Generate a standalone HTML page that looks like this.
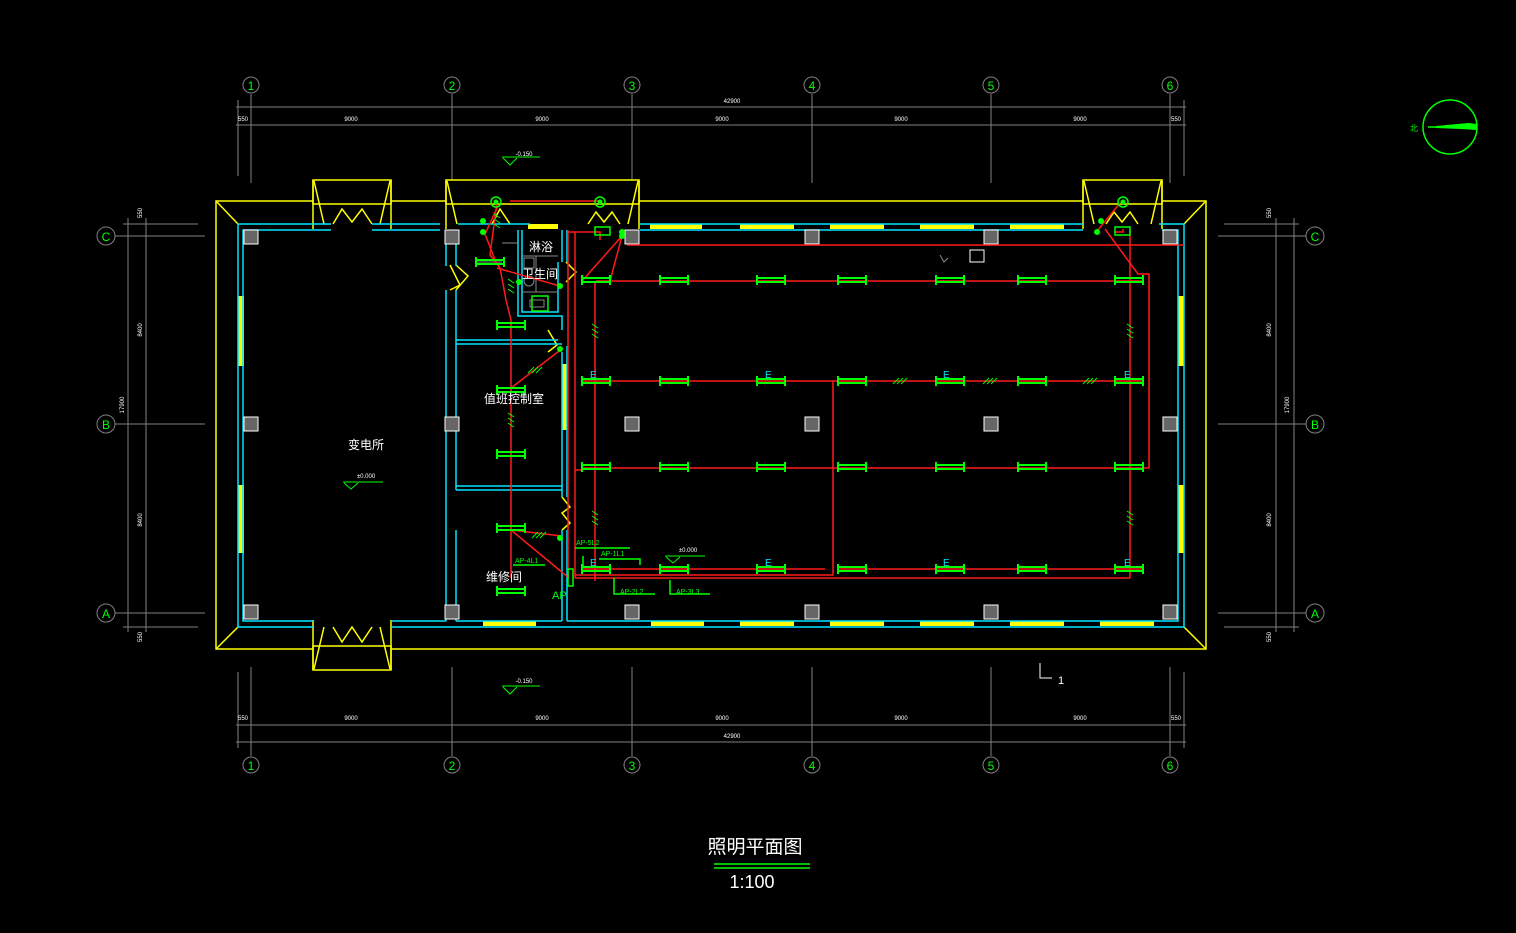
<!DOCTYPE html>
<html><head><meta charset="utf-8"><style>
html,body{margin:0;padding:0;background:#000;}
svg{display:block;}
text{font-family:"Liberation Sans","Noto Sans CJK SC",sans-serif;}
</style></head><body>
<svg width="1516" height="933" viewBox="0 0 1516 933" xmlns="http://www.w3.org/2000/svg">
<defs>
<g id="fx" stroke="#00ff00" stroke-width="2" fill="none">
<line x1="0" y1="-2" x2="28" y2="-2"/><line x1="0" y1="2" x2="28" y2="2"/>
<line x1="0" y1="-5" x2="0" y2="5"/><line x1="28" y1="-5" x2="28" y2="5"/>
</g>
<g id="col"><rect x="-7" y="-7" width="14" height="14" fill="#666" stroke="#fff" stroke-width="1"/></g>
<g id="tick" stroke="#00ff00" stroke-width="1"><line x1="-4" y1="3" x2="2" y2="-3"/><line x1="0" y1="3" x2="6" y2="-3"/><line x1="4" y1="3" x2="10" y2="-3"/></g>
<g id="vtick" stroke="#00ff00" stroke-width="1"><line x1="-3" y1="-6" x2="3" y2="-2"/><line x1="-3" y1="-1" x2="3" y2="3"/><line x1="-3" y1="4" x2="3" y2="8"/></g>
</defs>

<g stroke="#808080" stroke-width="1" fill="none">
<line x1="236" y1="107" x2="1186" y2="107"/>
<line x1="236" y1="125" x2="1186" y2="125"/>
<line x1="236" y1="725" x2="1186" y2="725"/>
<line x1="236" y1="742" x2="1186" y2="742"/>
<line x1="238" y1="100" x2="238" y2="176"/><line x1="1184" y1="100" x2="1184" y2="176"/>
<line x1="238" y1="672" x2="238" y2="748"/><line x1="1184" y1="672" x2="1184" y2="748"/>
<line x1="251" y1="94" x2="251" y2="183"/><line x1="452" y1="94" x2="452" y2="183"/><line x1="632" y1="94" x2="632" y2="183"/><line x1="812" y1="94" x2="812" y2="183"/><line x1="991" y1="94" x2="991" y2="183"/><line x1="1170" y1="94" x2="1170" y2="183"/>
<line x1="251" y1="667" x2="251" y2="756"/><line x1="452" y1="667" x2="452" y2="756"/><line x1="632" y1="667" x2="632" y2="756"/><line x1="812" y1="667" x2="812" y2="756"/><line x1="991" y1="667" x2="991" y2="756"/><line x1="1170" y1="667" x2="1170" y2="756"/>
<line x1="128" y1="218" x2="128" y2="632"/><line x1="146" y1="218" x2="146" y2="632"/>
<line x1="123" y1="224" x2="198" y2="224"/><line x1="123" y1="627" x2="198" y2="627"/>
<line x1="115" y1="236" x2="205" y2="236"/><line x1="115" y1="424" x2="205" y2="424"/><line x1="115" y1="613" x2="205" y2="613"/>
<line x1="1276" y1="218" x2="1276" y2="632"/><line x1="1294" y1="218" x2="1294" y2="632"/>
<line x1="1224" y1="224" x2="1299" y2="224"/><line x1="1224" y1="627" x2="1299" y2="627"/>
<line x1="1218" y1="236" x2="1306" y2="236"/><line x1="1218" y1="424" x2="1306" y2="424"/><line x1="1218" y1="613" x2="1306" y2="613"/>
<g stroke="#808080"><circle cx="251" cy="85" r="8"/><circle cx="452" cy="85" r="8"/><circle cx="632" cy="85" r="8"/><circle cx="812" cy="85" r="8"/><circle cx="991" cy="85" r="8"/><circle cx="1170" cy="85" r="8"/>
<circle cx="251" cy="765" r="8"/><circle cx="452" cy="765" r="8"/><circle cx="632" cy="765" r="8"/><circle cx="812" cy="765" r="8"/><circle cx="991" cy="765" r="8"/><circle cx="1170" cy="765" r="8"/>
<circle cx="106" cy="236" r="9"/><circle cx="106" cy="424" r="9"/><circle cx="106" cy="613" r="9"/>
<circle cx="1315" cy="236" r="9"/><circle cx="1315" cy="424" r="9"/><circle cx="1315" cy="613" r="9"/></g>
</g>
<g fill="#00ff00" font-size="12" text-anchor="middle">
<text x="251" y="90">1</text><text x="452" y="90">2</text><text x="632" y="90">3</text><text x="812" y="90">4</text><text x="991" y="90">5</text><text x="1170" y="90">6</text>
<text x="251" y="770">1</text><text x="452" y="770">2</text><text x="632" y="770">3</text><text x="812" y="770">4</text><text x="991" y="770">5</text><text x="1170" y="770">6</text>
<text x="106" y="241">C</text><text x="106" y="429">B</text><text x="106" y="618">A</text>
<text x="1315" y="241">C</text><text x="1315" y="429">B</text><text x="1315" y="618">A</text>
</g>
<g fill="#fff" font-size="6" text-anchor="middle">
<text x="732" y="103">42900</text><text x="243" y="121">550</text><text x="351" y="121">9000</text><text x="542" y="121">9000</text><text x="722" y="121">9000</text><text x="901" y="121">9000</text><text x="1080" y="121">9000</text><text x="1176" y="121">550</text>
<text x="732" y="738">42900</text><text x="243" y="720">550</text><text x="351" y="720">9000</text><text x="542" y="720">9000</text><text x="722" y="720">9000</text><text x="901" y="720">9000</text><text x="1080" y="720">9000</text><text x="1176" y="720">550</text>
<text transform="translate(142,213) rotate(-90)">550</text><text transform="translate(142,330) rotate(-90)">8400</text><text transform="translate(124,405) rotate(-90)">17900</text><text transform="translate(142,520) rotate(-90)">8400</text><text transform="translate(142,637) rotate(-90)">550</text>
<text transform="translate(1271,213) rotate(-90)">550</text><text transform="translate(1271,330) rotate(-90)">8400</text><text transform="translate(1289,405) rotate(-90)">17900</text><text transform="translate(1271,520) rotate(-90)">8400</text><text transform="translate(1271,637) rotate(-90)">550</text>
<text x="524" y="156">-0.150</text><text x="524" y="683">-0.150</text><text x="366" y="478">±0.000</text><text x="688" y="552">±0.000</text>
</g>
<g stroke="#00ff00" fill="none" stroke-width="1">
<polyline points="502,157 540,157"/><polyline points="503,158 510,165 517,158"/>
<polyline points="502,686 540,686"/><polyline points="503,687 510,694 517,687"/>
<polyline points="343,482 383,482"/><polyline points="344,483 351,489 358,483"/>
<polyline points="665,556 705,556"/><polyline points="666,557 673,563 680,557"/>
</g>

<g stroke="#ffff00" stroke-width="1.5" fill="none">
<rect x="216" y="201" width="990" height="448"/>
<line x1="216" y1="201" x2="238" y2="224"/><line x1="1206" y1="201" x2="1184" y2="224"/>
<line x1="216" y1="649" x2="238" y2="627"/><line x1="1206" y1="649" x2="1184" y2="627"/>
<rect x="313" y="180" width="78" height="24" fill="#000"/><line x1="313" y1="180" x2="313" y2="229"/><line x1="391" y1="180" x2="391" y2="229"/>
<polyline points="314,181 324,224"/><polyline points="390,181 380,224"/><polyline points="333,224 342,209 352,222 362,209 372,224"/>
<rect x="446" y="180" width="193" height="24" fill="#000"/><line x1="446" y1="180" x2="446" y2="229"/><line x1="639" y1="180" x2="639" y2="229"/>
<polyline points="447,181 457,224"/><polyline points="638,181 628,224"/><polyline points="588,224 596,212 604,222 612,212 620,224"/><polyline points="492,224 500,209 510,224"/>
<rect x="1083" y="180" width="79" height="24" fill="#000"/><line x1="1083" y1="180" x2="1083" y2="229"/><line x1="1162" y1="180" x2="1162" y2="229"/>
<polyline points="1084,181 1094,224"/><polyline points="1161,181 1151,224"/><polyline points="1106,224 1114,212 1122,222 1130,212 1138,224"/>
<rect x="313" y="646" width="78" height="24" fill="#000"/><line x1="313" y1="620" x2="313" y2="670"/><line x1="391" y1="620" x2="391" y2="670"/>
<polyline points="314,669 324,627"/><polyline points="390,669 380,627"/><polyline points="333,627 342,642 352,627 362,642 372,627"/>
<polyline points="450,265 460,285 450,290"/><polyline points="456,265 468,276 456,290"/>
<polyline points="548,330 557,345 548,352"/><polyline points="562,497 570,507 562,513 570,523 562,530"/>
<polyline points="566,262 576,272 566,282"/>
</g>
<g fill="#ffff00">
<rect x="238" y="296" width="6" height="70"/><rect x="238" y="485" width="6" height="68"/>
<rect x="1178" y="296" width="6" height="70"/><rect x="1178" y="485" width="6" height="68"/>
<rect x="562" y="364" width="5" height="66"/>
<rect x="528" y="224" width="30" height="5"/><rect x="650" y="224" width="52" height="5"/><rect x="740" y="224" width="54" height="5"/><rect x="830" y="224" width="54" height="5"/><rect x="920" y="224" width="54" height="5"/><rect x="1010" y="224" width="54" height="5"/>
<rect x="483" y="621" width="53" height="5"/><rect x="651" y="621" width="53" height="5"/><rect x="740" y="621" width="54" height="5"/><rect x="830" y="621" width="54" height="5"/><rect x="920" y="621" width="54" height="5"/><rect x="1010" y="621" width="54" height="5"/><rect x="1100" y="621" width="54" height="5"/>
</g>
<g stroke="#00e5ff" stroke-width="1.5" fill="none">
<polyline points="331,224 238,224 238,627 313,627"/>
<polyline points="331,230 243,230 243,621 313,621"/>
<polyline points="372,224 440,224"/><polyline points="372,230 440,230"/>
<polyline points="391,627 1184,627 1184,224 1159,224"/>
<polyline points="391,621 446,621"/><polyline points="456,621 562,621"/><polyline points="567,621 1178,621 1178,230 1162,230"/>
<polyline points="640,224 1083,224"/><polyline points="640,230 1083,230"/>
<polyline points="446,230 446,266"/><polyline points="456,230 456,266"/>
<polyline points="446,290 446,621"/><polyline points="456,290 456,486 562,486 562,497"/>
<polyline points="456,490 562,490"/><polyline points="456,530 456,621"/>
<polyline points="562,530 562,621"/><polyline points="567,530 567,621"/>
<polyline points="456,486 456,490"/>
<polyline points="518,230 518,316 562,316 562,330"/><polyline points="522,230 522,312 558,312 558,262"/>
<polyline points="562,352 562,486"/><polyline points="567,346 567,497"/>
<polyline points="567,230 567,262"/><polyline points="562,230 562,262"/>
<polyline points="456,344 562,344"/><polyline points="456,340 558,340"/>
<line x1="458" y1="224" x2="530" y2="224"/>
</g>
<g>
<use href="#col" x="251" y="237"/><use href="#col" x="452" y="237"/><use href="#col" x="632" y="237"/><use href="#col" x="812" y="237"/><use href="#col" x="991" y="237"/><use href="#col" x="1170" y="237"/>
<use href="#col" x="251" y="424"/><use href="#col" x="452" y="424"/><use href="#col" x="632" y="424"/><use href="#col" x="812" y="424"/><use href="#col" x="991" y="424"/><use href="#col" x="1170" y="424"/>
<use href="#col" x="251" y="612"/><use href="#col" x="452" y="612"/><use href="#col" x="632" y="612"/><use href="#col" x="812" y="612"/><use href="#col" x="991" y="612"/><use href="#col" x="1170" y="612"/>
</g>
<g stroke="#888" fill="none" stroke-width="1">
<line x1="522" y1="256" x2="558" y2="256"/><line x1="522" y1="292" x2="558" y2="292"/><rect x="524" y="258" width="10" height="10"/><circle cx="529" cy="281" r="5"/><line x1="536" y1="256" x2="536" y2="292"/><rect x="530" y="300" width="14" height="7"/>
<line x1="502" y1="243" x2="518" y2="243"/><line x1="476" y1="262" x2="502" y2="262"/>
<rect x="970" y="250" width="14" height="12" stroke="#fff"/><polyline points="940,255 944,262 948,258"/>
</g>

<g stroke="#ff1a1a" stroke-width="1.5" fill="none">
<line x1="596" y1="281" x2="1143" y2="281"/>
<line x1="582" y1="468" x2="1147" y2="468"/>
<polyline points="1147,468 1149,468 1149,274 1138,274 1105,229"/>
<line x1="568" y1="230" x2="568" y2="578"/><line x1="575" y1="232" x2="575" y2="578"/>
<polyline points="568,232 600,232 600,240"/>
<polyline points="575,470 582,470"/>
<line x1="575" y1="578" x2="1130" y2="578"/>
<polyline points="575,575 833,575 833,381 1143,381"/>
<polyline points="582,381 833,381"/>
<line x1="595" y1="282" x2="595" y2="581"/>
<polyline points="1130,230 1130,578"/>
<polyline points="582,569 825,569"/><polyline points="838,569 1143,569"/>
<line x1="627" y1="245" x2="1184" y2="245"/>
<polyline points="582,281 622,236 610,281"/>
<line x1="511" y1="320" x2="511" y2="578"/>
<polyline points="497,202 490,255 500,268 506,300 511,320"/>
<polyline points="498,206 485,234 497,265"/>
<polyline points="497,268 560,286"/>
<polyline points="511,388 563,348"/>
<polyline points="511,530 562,536"/><polyline points="511,530 569,578"/>
<polyline points="510,201 600,201"/>
<polyline points="1123,229 1123,232 1115,232"/>
<polyline points="1120,203 1098,230"/>
</g>

<g>
<use href="#fx" x="582" y="280"/><use href="#fx" x="660" y="280"/><use href="#fx" x="757" y="280"/><use href="#fx" x="838" y="280"/><use href="#fx" x="936" y="280"/><use href="#fx" x="1018" y="280"/><use href="#fx" x="1115" y="280"/>
<use href="#fx" x="582" y="381"/><use href="#fx" x="660" y="381"/><use href="#fx" x="757" y="381"/><use href="#fx" x="838" y="381"/><use href="#fx" x="936" y="381"/><use href="#fx" x="1018" y="381"/><use href="#fx" x="1115" y="381"/>
<use href="#fx" x="582" y="467"/><use href="#fx" x="660" y="467"/><use href="#fx" x="757" y="467"/><use href="#fx" x="838" y="467"/><use href="#fx" x="936" y="467"/><use href="#fx" x="1018" y="467"/><use href="#fx" x="1115" y="467"/>
<use href="#fx" x="582" y="569"/><use href="#fx" x="660" y="569"/><use href="#fx" x="757" y="569"/><use href="#fx" x="838" y="569"/><use href="#fx" x="936" y="569"/><use href="#fx" x="1018" y="569"/><use href="#fx" x="1115" y="569"/>
<use href="#fx" x="497" y="325"/><use href="#fx" x="497" y="390"/><use href="#fx" x="497" y="454"/><use href="#fx" x="497" y="528"/><use href="#fx" x="497" y="591"/>
<use href="#fx" x="476" y="262"/>
<use href="#tick" x="897" y="381"/><use href="#tick" x="987" y="381"/><use href="#tick" x="1087" y="381"/>
<use href="#vtick" x="595" y="330"/><use href="#vtick" x="595" y="517"/><use href="#vtick" x="1130" y="330"/><use href="#vtick" x="1130" y="517"/><use href="#vtick" x="511" y="419"/><use href="#vtick" x="511" y="285"/><use href="#vtick" x="497" y="220"/>
<use href="#tick" x="536" y="535"/><use href="#tick" x="532" y="370"/>
</g>
<g fill="#00e5ff" font-size="10">
<text x="590" y="378">E</text><text x="765" y="378">E</text><text x="943" y="378">E</text><text x="1124" y="378">E</text>
<text x="590" y="566">E</text><text x="765" y="566">E</text><text x="943" y="566">E</text><text x="1124" y="566">E</text>
</g>
<g stroke="#00ff00" stroke-width="1.5" fill="none">
<circle cx="496" cy="202" r="5"/><circle cx="600" cy="202" r="5"/><circle cx="1123" cy="202" r="5"/>
<rect x="595" y="227" width="15" height="8"/><rect x="1115" y="227" width="15" height="8"/>
<rect x="568" y="569" width="5" height="17"/>
<rect x="532" y="296" width="16" height="15"/>
<polyline points="575,548 630,548"/><polyline points="599,559 640,559 640,565"/>
<polyline points="513,565 545,565"/>
<polyline points="614,578 614,594 655,594"/><polyline points="670,580 670,594 710,594"/>
<polyline points="583,556 583,567 604,567"/>
</g>
<g fill="#00ff00">
<circle cx="496" cy="202" r="2.5"/><circle cx="600" cy="202" r="2.5"/><circle cx="1123" cy="202" r="2.5"/>
<circle cx="483" cy="221" r="3"/><circle cx="483" cy="232" r="3"/><circle cx="622" cy="236" r="3"/><circle cx="622" cy="232" r="3"/><circle cx="1101" cy="221" r="3"/><circle cx="1097" cy="232" r="3"/>
<circle cx="519" cy="282" r="3"/><circle cx="560" cy="286" r="3"/><circle cx="560" cy="349" r="3"/><circle cx="560" cy="538" r="3"/>
</g>
<g fill="#00ff00" font-size="7">
<text x="576" y="545">AP-5L2</text><text x="601" y="556">AP-1L1</text><text x="515" y="563">AP-4L1</text><text x="620" y="594">AP-2L2</text><text x="676" y="594">AP-3L3</text>
<text x="552" y="599" font-size="11">AP</text>
</g>
<g fill="#fff" font-size="12" text-anchor="middle">
<text x="366" y="449">变电所</text><text x="514" y="403">值班控制室</text><text x="504" y="581">维修间</text>
<text x="541" y="251">淋浴</text><text x="540" y="278">卫生间</text>
</g>
<g stroke="#fff" fill="none" stroke-width="1"><polyline points="1040,663 1040,678 1052,678"/></g>
<text x="1058" y="684" fill="#fff" font-size="11">1</text>
<g stroke="#00ff00" stroke-width="1.5" fill="none"><circle cx="1450" cy="127" r="27"/><line x1="1428" y1="127" x2="1477" y2="127"/></g>
<polygon points="1436,126 1468,123 1477,124 1477,130 1460,129 1436,128" fill="#00ff00"/>
<text x="1410" y="131" fill="#00ff00" font-size="8">北</text>
<text x="755" y="853" fill="#fff" font-size="19" text-anchor="middle">照明平面图</text>
<line x1="714" y1="864" x2="810" y2="864" stroke="#00ff00" stroke-width="1.5"/>
<line x1="714" y1="868" x2="810" y2="868" stroke="#00ff00" stroke-width="1.5"/>
<text x="752" y="888" fill="#fff" font-size="18" text-anchor="middle">1:100</text>
</svg>
</body></html>
